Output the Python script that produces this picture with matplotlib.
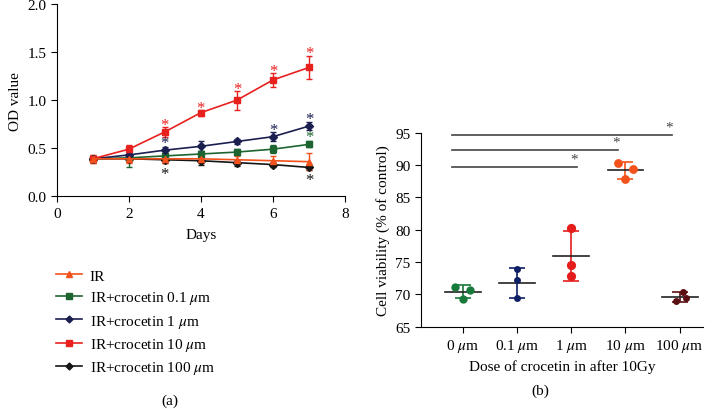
import matplotlib
matplotlib.use("Agg")
import matplotlib.pyplot as plt
from matplotlib.lines import Line2D
import numpy as np

plt.rcParams['font.family'] = ['Liberation Serif', 'DejaVu Serif']
plt.rcParams['mathtext.fontset'] = 'stix'
plt.rcParams['font.size'] = 11

# ---- Panel (a) data ----
days = [1, 2, 3, 4, 5, 6, 7]
ir = [0.39, 0.39, 0.39, 0.39, 0.38, 0.37, 0.36]
ir_err = [0.04, 0.04, 0.04, 0.04, 0.04, 0.05, 0.09]
c01 = [0.39, 0.40, 0.42, 0.44, 0.46, 0.49, 0.54]
c01_err = [0.03, 0.10, 0.03, 0.03, 0.03, 0.04, 0.03]
c1 = [0.39, 0.43, 0.48, 0.52, 0.57, 0.62, 0.73]
c1_err = [0.03, 0.03, 0.03, 0.05, 0.03, 0.05, 0.04]
c10 = [0.39, 0.49, 0.67, 0.87, 1.00, 1.21, 1.34]
c10_err = [0.04, 0.04, 0.05, 0.03, 0.10, 0.07, 0.12]
c100 = [0.39, 0.39, 0.38, 0.37, 0.35, 0.33, 0.30]
c100_err = [0.03, 0.03, 0.03, 0.04, 0.03, 0.03, 0.03]

series_labels = ['IR', r'IR+crocetin 0.1 $\mu$m', r'IR+crocetin 1 $\mu$m',
                 r'IR+crocetin 10 $\mu$m', r'IR+crocetin 100 $\mu$m']
series_colors = ['#f2511b', '#1d6530', '#1b1f50', '#e8211f', '#151515']
series_markers = ['^', 's', 'D', 's', 'D']

# asterisks (day, y, color)
stars_day = [3, 4, 5, 6, 7, 3, 6, 7, 7, 3, 7]
stars_y = [0.74, 0.92, 1.12, 1.30, 1.49, 0.55, 0.69, 0.80, 0.62, 0.23, 0.17]
stars_col = ['#e8211f'] * 5 + ['#1b1f50'] * 3 + ['#1d6530'] + ['#151515'] * 2

# ---- Panel (b) data ----
doses = [r'0 $\mu$m', r'0.1 $\mu$m', r'1 $\mu$m', r'10 $\mu$m', r'100 $\mu$m']
pts_0 = [71.2, 70.6, 69.3]
pts_01 = [73.9, 72.2, 69.5]
pts_1 = [80.3, 74.5, 72.9]
pts_10 = [90.3, 89.4, 87.8]
pts_100 = [70.4, 69.4, 68.9]
means_b = [70.4, 71.8, 75.9, 89.2, 69.6]
sd_b = [1.0, 2.3, 3.9, 1.3, 0.8]
jit_0 = [-0.14, 0.14, 0.0]
jit_01 = [0.0, 0.0, 0.0]
jit_1 = [0.0, 0.0, 0.0]
jit_10 = [-0.14, 0.14, 0.0]
jit_100 = [0.06, 0.12, -0.06]
dose_colors = ['#177a3a', '#0f1f66', '#e41c1c', '#f3521a', '#5c0f12']
dose_sizes = [36, 25, 44, 40, 25]
sig_end = [2.1, 2.87, 3.85]
sig_y = [89.7, 92.3, 94.6]

fig = plt.figure(figsize=(7.18, 4.10), dpi=100)

# Panel (a)
ax1 = fig.add_axes([56.7/718, 1-197.3/410, (345-56.7)/718, (197.3-5)/410])
data_a = [ir, c01, c1, c10, c100]
err_a = [ir_err, c01_err, c1_err, c10_err, c100_err]
order = [4, 1, 2, 3, 0]
for i in order:
    ax1.errorbar(days, data_a[i], yerr=err_a[i], color=series_colors[i],
                 marker=series_markers[i], markersize=4.5 if series_markers[i] != 'D' else 3.8,
                 lw=1.2, capsize=2.5, elinewidth=1.0)
for d, y, c in zip(stars_day, stars_y, stars_col):
    ax1.text(d, y, '*', color=c, ha='center', va='center', fontsize=12)
ax1.set_xlim(0, 8)
ax1.set_ylim(0, 2.0)
ax1.set_xticks([0, 2, 4, 6, 8])
ax1.set_yticks([0, 0.5, 1.0, 1.5, 2.0])
ax1.set_yticklabels(['0.0', '0.5', '1.0', '1.5', '2.0'])
ax1.spines['top'].set_visible(False)
ax1.spines['right'].set_visible(False)
ax1.tick_params(direction='out', length=4, labelsize=11)
ax1.set_xlabel('Days', fontsize=11, labelpad=6)
ax1.set_ylabel('OD value', fontsize=11, labelpad=4)
handles = [Line2D([0], [0], color=series_colors[i], marker=series_markers[i],
                  markersize=4 if series_markers[i] != 'D' else 3.5, lw=1.2)
           for i in range(5)]
fig.legend(handles, series_labels,
           loc='upper left', bbox_to_anchor=(50/718, 1-264/410), frameon=False,
           fontsize=11, handlelength=1.7, labelspacing=0.42, handletextpad=0.5,
           borderaxespad=0)
fig.text(170/718, 1-401/410, '(a)', ha='center', va='center', fontsize=11)

# Panel (b)
ax2 = fig.add_axes([421/718, 1-327.7/410, (703-421)/718, (327.7-133.7)/410])
pts_b = [pts_0, pts_01, pts_1, pts_10, pts_100]
jit_b = [jit_0, jit_01, jit_1, jit_10, jit_100]
xs = np.arange(len(doses))
for i in range(len(doses)):
    ax2.errorbar([xs[i]], [means_b[i]], yerr=[sd_b[i]], color=dose_colors[i],
                 capsize=6, lw=0, elinewidth=1.2, capthick=1.2, zorder=2)
    ax2.plot([xs[i] - 0.33, xs[i] + 0.33], [means_b[i]] * 2, color='#222222', lw=1.2, zorder=3)
    ax2.scatter(xs[i] + np.array(jit_b[i]), pts_b[i], s=dose_sizes[i], color=dose_colors[i], zorder=4,
                linewidths=0)
for e, y in zip(sig_end, sig_y):
    ax2.plot([-0.2, e], [y, y], color='#444444', lw=1.2)
    ax2.text(e - 0.05, y + 0.2, '*', color='#444444', ha='center', va='bottom', fontsize=11)
ax2.set_xlim(-0.77, 4.43)
ax2.set_ylim(65, 95)
ax2.set_yticks([65, 70, 75, 80, 85, 90, 95])
ax2.set_xticks(xs)
ax2.set_xticklabels(doses)
ax2.spines['top'].set_visible(False)
ax2.spines['right'].set_visible(False)
ax2.tick_params(direction='out', length=4, labelsize=11)
ax2.set_xlabel('Dose of crocetin in after 10Gy', fontsize=11, labelpad=4)
ax2.set_ylabel('Cell viability (% of control)', fontsize=11, labelpad=4)
fig.text(540/718, 1-391/410, '(b)', ha='center', va='center', fontsize=11)

fig.savefig('out.png', dpi=100)
